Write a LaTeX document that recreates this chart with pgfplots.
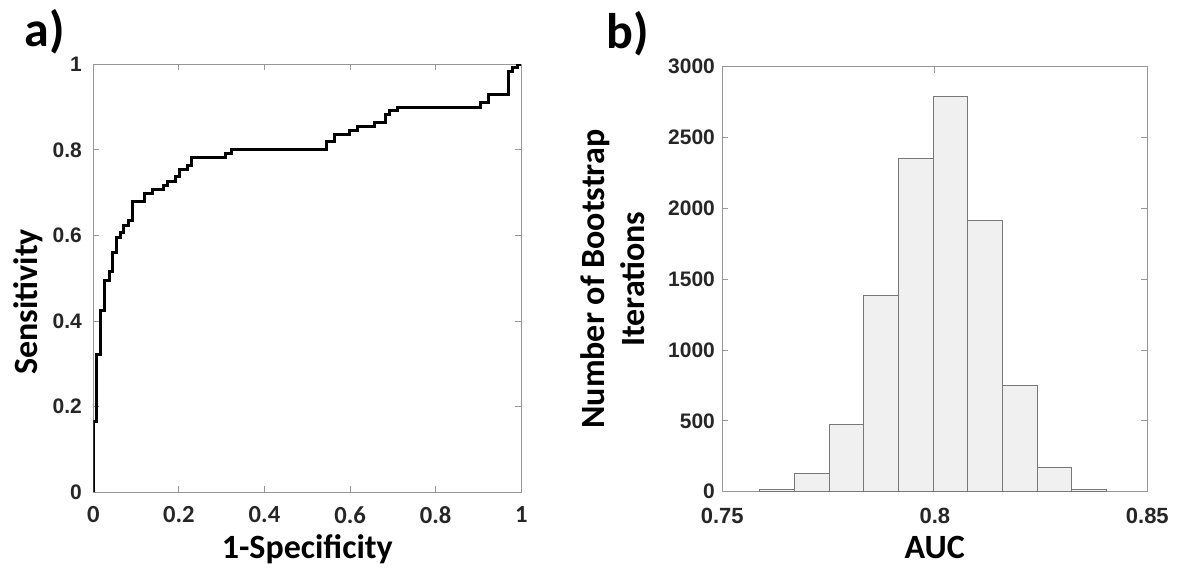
\documentclass[border=0pt]{standalone}
\usepackage{fontspec}
\setmainfont{Carlito}
\newfontfamily\arial{Liberation Sans}
\usepackage{pgfplots}
\pgfplotsset{compat=1.18}

\definecolor{axgray}{RGB}{150,150,150}
\definecolor{tickfg}{RGB}{38,38,38}
\definecolor{barfill}{RGB}{240,240,240}
\definecolor{baredge}{RGB}{120,120,120}

\pgfplotsset{
  matbox/.style={
    scale only axis,
    axis line style={axgray, line width=0.5pt},
    every tick/.style={axgray, line width=0.5pt},
    tick align=inside, major tick length=3pt,
    /pgf/number format/assume math mode=true,
    /pgf/number format/1000 sep={},
    scaled ticks=false,
    every tick label/.append style={inner sep=0pt, text=tickfg},
    tick label style={font=\arial\bfseries\fontsize{10.5}{12}\selectfont},
    label style={font=\bfseries\fontsize{17}{20}\selectfont, inner sep=0pt},
  }
}

\begin{document}
\begin{tikzpicture}
\useasboundingbox (0,0) rectangle (588.5pt,284pt);

% a) ROC curve
\begin{axis}[matbox,
  at={(46.65pt,37.85pt)}, anchor=south west,
  width=214pt, height=214pt,
  xmin=0, xmax=1, ymin=0, ymax=1,
  xtick={0,0.2,...,1}, ytick={0,0.2,...,1},
  xticklabel style={font=\bfseries\fontsize{12.3}{14}\selectfont},
  xticklabel shift=7pt, yticklabel shift=5.5pt,
  xlabel={1-Specificity}, ylabel={Sensitivity},
  xlabel style={at={(axis description cs:0.5,-0.155)}, anchor=base},
  ylabel style={at={(axis description cs:-0.1315,0.445)}, anchor=base},
]
\addplot[const plot, black, line width=1.5pt] coordinates {
 (0,0) (0,0.1665) (0.0078,0.323) (0.017,0.424) (0.027,0.496) (0.037,0.515)
 (0.045,0.560) (0.054,0.595) (0.064,0.606) (0.071,0.624) (0.082,0.634)
 (0.091,0.680) (0.119,0.698) (0.138,0.708) (0.165,0.717) (0.174,0.727)
 (0.192,0.737) (0.202,0.754) (0.219,0.763) (0.229,0.782) (0.310,0.791)
 (0.322,0.800) (0.544,0.819) (0.563,0.837) (0.599,0.846) (0.618,0.854)
 (0.657,0.865) (0.683,0.882) (0.693,0.892) (0.711,0.900) (0.905,0.910)
 (0.923,0.930) (0.969,0.984) (0.980,0.992) (0.992,1.000) (1,1.000)
};
\end{axis}

% b) bootstrap AUC histogram
\begin{axis}[matbox,
  at={(361.15pt,38.15pt)}, anchor=south west,
  width=212.5pt, height=212.5pt,
  xmin=0.75, xmax=0.85, ymin=0, ymax=3000,
  xtick={0.75,0.8,0.85}, ytick={0,500,...,3000},
  xticklabels={0.75,0.8,0.85},
  xticklabel style={font=\arial\bfseries\fontsize{11}{13}\selectfont},
  xticklabel shift=8pt, yticklabel shift=3.5pt,
  xlabel={AUC}, ylabel={Number of Bootstrap\\Iterations},
  xlabel style={at={(axis description cs:0.5,-0.157)}, anchor=base},
  ylabel style={at={(axis description cs:-0.1819,0.5)}, anchor=south, align=center},
]
\addplot[ybar interval, fill=barfill, draw=baredge, line width=0.5pt] coordinates {
 (0.75886,16) (0.76701,125) (0.77516,473) (0.78331,1386) (0.79146,2353)
 (0.79961,2793) (0.80776,1915) (0.81590,751) (0.82405,174) (0.83220,19)
 (0.84035,0)
};
\end{axis}

\node[anchor=base west, inner sep=0pt, font=\bfseries\fontsize{25}{30}\selectfont] at (12pt,260.5pt) {a)};
\node[anchor=base west, inner sep=0pt, font=\bfseries\fontsize{25}{30}\selectfont] at (303pt,259.5pt) {b)};
\end{tikzpicture}
\end{document}
